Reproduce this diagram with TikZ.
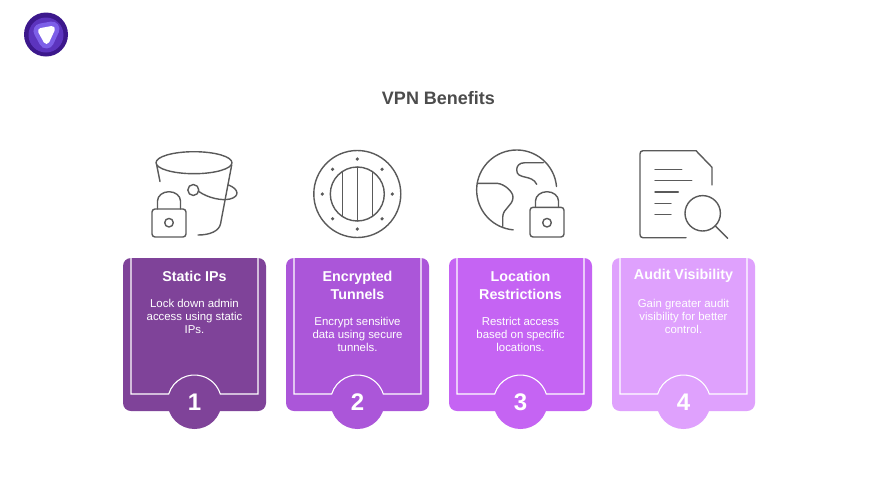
\documentclass[tikz,border=0pt]{standalone}
\usepackage{fontspec}
\setmainfont{Liberation Sans}
\definecolor{cardA}{HTML}{7F4399}
\definecolor{cardB}{HTML}{AB56D9}
\definecolor{cardC}{HTML}{C564F3}
\definecolor{cardD}{HTML}{DFA1FD}
\definecolor{ink}{HTML}{5A5A5A}
\definecolor{logoA}{HTML}{3C188C}
\definecolor{logoB}{HTML}{5C34BE}
\definecolor{logoC}{HTML}{7D5FE8}
\tikzset{
  cardbox/.style={draw=none,rounded corners=8pt,minimum width=143pt,minimum height=153pt,inner sep=0pt},
  badge/.style={circle,draw=none,minimum size=54pt,inner sep=0pt,text=white,font=\fontsize{24}{24}\selectfont\bfseries},
  frameline/.style={draw=white,line width=1.1pt},
  cardtitle/.style={text=white,align=center,inner sep=0pt,font=\fontsize{14.3}{18}\selectfont\bfseries},
  cardbody/.style={text=white,align=center,inner sep=0pt,font=\fontsize{11.4}{13}\selectfont},
  iconline/.style={draw=ink,line width=1.4pt,line cap=round,line join=round},
  headline/.style={text=ink!85!black,inner sep=0pt,font=\fontsize{18}{20}\selectfont\bfseries}
}
\newcommand{\cardat}[7]{% index, left x, colour, title, title y, body, body y
  \node[cardbox,fill=#3] (card#1) at (#2+71.5,334.5) {};
  \node[badge,fill=#3] (badge#1) at (#2+71.5,402) {#1};
  \draw[frameline] (#2+8,258) -- (#2+8,394) -- (#2+45.7,394)
     arc[start angle=162.8,end angle=17.2,radius=27pt] -- (#2+135,394) -- (#2+135,258);
  \node[cardtitle] (title#1) at (#2+71.5,#5) {#4};
  \node[cardbody] (body#1) at (#2+71.5,#7) {#6};
}
\newcommand{\lockat}[3]{% left x, right x, body top y
  \draw[iconline,rounded corners=3pt] (#1,#3) rectangle (#2,237);
  \draw[iconline] (#1+5.5,#3) -- (#1+5.5,201) arc[start angle=180,end angle=0,x radius=#2pt/2-#1pt/2-5.5pt,y radius=9.3pt] -- (#2-5.5,#3);
  \draw[iconline] ({(#1+#2)/2},222.7) circle[radius=4.3pt];
}
\begin{document}
\begin{tikzpicture}[x=1pt,y=-1pt]
\useasboundingbox[fill=white] (0,0) rectangle (876,493);
% logo
\fill[logoA] (46,34.5) circle[radius=22pt];
\fill[logoB] (46,35) circle[radius=17.5pt];
\fill[logoC,draw=logoC,line width=15pt,line join=round] (41,31) -- (52,29) -- (46.5,41) -- cycle;
\fill[white,draw=white,line width=6pt,line join=round] (41,31) -- (52,29) -- (46.5,41) -- cycle;
% title
\node[headline] (heading) at (438.5,98.5) {VPN Benefits};
% bucket icon
\draw[iconline] (194,162.7) ellipse[x radius=38pt,y radius=11pt];
\draw[iconline] (156.7,165) -- (160,181.5);
\draw[iconline] (231.7,165) -- (220.5,224) .. controls (219,231) and (210,235) .. (198,235);
\draw[iconline] (193.3,190) circle[radius=5.5pt];
\draw[iconline] (198.8,191.5) .. controls (208,198) and (222,201) .. (230,199)
   .. controls (240,196.5) and (239,189) .. (228.5,185);
\lockat{152}{186}{209}
% porthole icon
\draw[iconline] (357.3,194) circle[radius=43.5pt];
\draw[iconline] (357.3,194) circle[radius=27pt];
\draw[iconline] (357.3,167) -- (357.3,221);
\draw[iconline] (342.3,171.5) -- (342.3,216.5);
\draw[iconline] (372.3,171.5) -- (372.3,216.5);
\foreach \a in {0,45,...,315}
  \fill[ink] (357.3,194) ++(\a:35pt) circle[radius=1.8pt];
% globe icon
\draw[iconline] (556.5,186.5) arc[start angle=5,end angle=265,radius=40pt];
\draw[iconline] (477.3,183.3) -- (497,183.3) .. controls (505,184) and (513,192) .. (513,197)
   .. controls (513,206) and (503,208) .. (502.7,217) -- (502.7,226.5);
\draw[iconline] (543.3,162.7) -- (525,162.7) .. controls (519,162.7) and (516.7,166) .. (516.7,170)
   .. controls (516.7,180) and (532,174) .. (536.7,184.3);
\lockat{530}{564}{207.3}
% document icon
\draw[iconline] (712,185) -- (712,167.3) -- (696,150.7) -- (643,150.7) .. controls (641,150.7) and (640,152) .. (640,154)
   -- (640,234.5) .. controls (640,236.5) and (641,237.7) .. (643,237.7) -- (686,237.7);
\draw[iconline] (655,169.3) -- (681.7,169.3);
\draw[iconline] (655,180.7) -- (691.7,180.7);
\draw[iconline] (655,192) -- (678.3,192);
\draw[iconline] (655,203.3) -- (671,203.3);
\draw[iconline] (655,214.7) -- (671,214.7);
\draw[iconline] (702.7,213.3) circle[radius=17.7pt];
\draw[iconline] (715,225.7) -- (727.7,238.3);
% cards
\cardat{1}{123}{cardA}{Static IPs}{276}{Lock down admin\\access using static\\IPs.}{316}
\cardat{2}{286}{cardB}{Encrypted\\Tunnels}{285}{Encrypt sensitive\\data using secure\\tunnels.}{334}
\cardat{3}{449}{cardC}{Location\\Restrictions}{285}{Restrict access\\based on specific\\locations.}{334}
\cardat{4}{612}{cardD}{Audit Visibility}{276}{Gain greater audit\\visibility for better\\control.}{316}
\end{tikzpicture}
\end{document}
